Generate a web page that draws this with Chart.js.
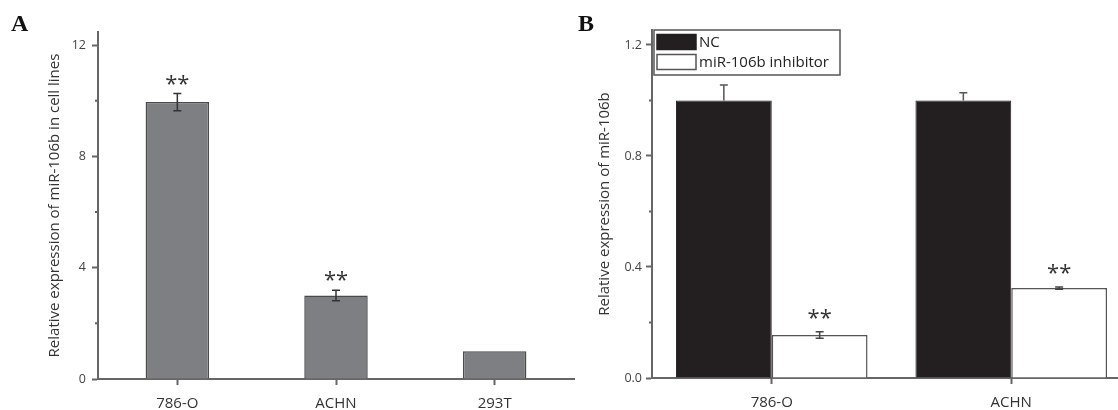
<!DOCTYPE html>
<html>
<head>
<meta charset="utf-8">
<script src="https://cdn.jsdelivr.net/npm/chart.js@4.4.1/dist/chart.umd.min.js"></script>
<style>
  html, body { margin: 0; padding: 0; background: #fff; }
  body { width: 1118px; height: 410px; overflow: hidden; position: relative; }
  canvas { position: absolute; top: 0; }
  #chartA { left: 0; }
  #chartB { left: 560px; }
  .panel { position: absolute; top: 11px; font: bold 24px "Liberation Serif", serif; line-height: 24px; color: #111; }
</style>
</head>
<body>
<canvas id="chartA" width="580" height="410"></canvas>
<canvas id="chartB" width="580" height="410"></canvas>
<div class="panel" style="left:11px">A</div>
<div class="panel" style="left:578px">B</div>
<script>
// Panel A data
const cellLines = ['786-O', 'ACHN', '293T'];
const expressionA = [9.95, 3.0, 1.0];
const errorA = [0.31, 0.19, 0];
const starsA = ['**', '**', ''];
const ticksMinorA = [2, 6, 10];

// Panel B data
const cellLinesB = ['786-O', 'ACHN'];
const ncValues = [1.0, 1.0];
const ncErrors = [0.056, 0.028];
const inhibitorValues = [0.155, 0.324];
const inhibitorErrors = [0.012, 0.004];
const inhibitorStars = ['**', '**'];
const ticksMinorB = [0.2, 0.6, 1.0];

const axisColor = '#666';
const tickFont = { family: 'Open Sans', size: 12.5 };
const labelFont = { family: 'Open Sans', size: 15 };
const titleFont = { family: 'Open Sans', size: 15 };

// error bars, significance stars and short minor ticks
const extrasPlugin = {
    id: 'extras',
    afterDatasetsDraw(chart, args, opts) {
        const ctx = chart.ctx;
        const yScale = chart.scales.y;
        ctx.save();
        chart.data.datasets.forEach((ds, i) => {
            const meta = chart.getDatasetMeta(i);
            meta.data.forEach((bar, j) => {
                const v = ds.data[j];
                const e = ds.errors ? ds.errors[j] : 0;
                const top = yScale.getPixelForValue(v + e);
                if (e > 0) {
                    const bot = yScale.getPixelForValue(v - e);
                    const base = yScale.getPixelForValue(v);
                    ctx.strokeStyle = ds.errorColor;
                    ctx.lineWidth = 1.5;
                    ctx.beginPath();
                    ctx.moveTo(bar.x - 4, top); ctx.lineTo(bar.x + 4, top);
                    if (ds.upperOnly) {
                        ctx.moveTo(bar.x, top); ctx.lineTo(bar.x, base);
                    } else {
                        ctx.moveTo(bar.x, top); ctx.lineTo(bar.x, bot);
                        ctx.moveTo(bar.x - 4, bot); ctx.lineTo(bar.x + 4, bot);
                    }
                    ctx.stroke();
                }
                if (ds.stars && ds.stars[j]) {
                    ctx.fillStyle = '#333';
                    ctx.font = '22px "Open Sans"';
                    ctx.textAlign = 'center';
                    ctx.textBaseline = 'middle';
                    ctx.fillText(ds.stars[j], bar.x, top - opts.starGap + 5);
                }
            });
        });
        // minor ticks on y axis
        ctx.strokeStyle = axisColor;
        ctx.lineWidth = 2;
        ctx.beginPath();
        opts.minor.forEach(v => {
            const y = yScale.getPixelForValue(v);
            ctx.moveTo(chart.chartArea.left - 3, y);
            ctx.lineTo(chart.chartArea.left, y);
        });
        ctx.stroke();
        ctx.restore();
    }
};

// boxed legend in upper left of panel B
const boxLegendPlugin = {
    id: 'boxLegend',
    afterDraw(chart, args, opts) {
        if (!opts.show) return;
        const ctx = chart.ctx;
        const x0 = chart.chartArea.left + 2, y0 = chart.chartArea.top;
        ctx.save();
        ctx.strokeStyle = '#555';
        ctx.lineWidth = 1.5;
        ctx.fillStyle = '#fff';
        ctx.fillRect(x0, y0, 186, 45);
        ctx.strokeRect(x0, y0, 186, 45);
        ctx.font = '15px "Open Sans"';
        ctx.textBaseline = 'middle';
        ctx.textAlign = 'left';
        chart.data.datasets.forEach((ds, i) => {
            const ry = y0 + 4.5 + i * 20;
            ctx.fillStyle = ds.backgroundColor;
            ctx.fillRect(x0 + 3, ry, 39, 15);
            ctx.strokeStyle = ds.borderColor;
            ctx.lineWidth = 1.5;
            ctx.strokeRect(x0 + 3, ry, 39, 15);
            ctx.fillStyle = '#222';
            ctx.fillText(ds.label, x0 + 45, ry + 8);
        });
        ctx.restore();
    }
};

function baseOptions(cfg) {
    return {
        responsive: false,
        animation: false,
        layout: { padding: { top: cfg.top, right: cfg.right, left: 0, bottom: 0 } },
        plugins: {
            legend: { display: false },
            tooltip: { enabled: false },
            extras: { starGap: cfg.starGap, minor: cfg.minor },
            boxLegend: { show: cfg.legend }
        },
        scales: {
            x: {
                grid: { drawOnChartArea: false, offset: false, tickLength: 6, tickWidth: 2, tickColor: axisColor },
                border: { color: axisColor, width: 2 },
                ticks: { font: labelFont, color: '#333', padding: 10 },
                afterFit: s => { s.height = cfg.xHeight; }
            },
            y: {
                min: 0,
                max: cfg.max,
                ticks: {
                    stepSize: cfg.step, includeBounds: false, font: tickFont, color: '#444', padding: cfg.tickPad,
                    callback: cfg.fmt
                },
                grid: { drawOnChartArea: false, tickLength: 6, tickWidth: 2, tickColor: axisColor },
                border: { color: axisColor, width: 2 },
                title: { display: true, text: cfg.title, font: titleFont, color: '#333', padding: { top: cfg.titlePad } },
                afterFit: s => { s.width = cfg.yWidth; }
            }
        }
    };
}

new Chart(document.getElementById('chartA'), {
    type: 'bar',
    data: {
        labels: cellLines,
        datasets: [{
            data: expressionA,
            errors: errorA,
            stars: starsA,
            errorColor: '#333',
            backgroundColor: '#7e7f83',
            borderColor: '#4a4a4a',
            borderWidth: 1.5,
            categoryPercentage: 1,
            barPercentage: 0.4
        }]
    },
    options: baseOptions({
        top: 32, right: 6, xHeight: 31, yWidth: 98, max: 12.47, step: 4,
        fmt: v => v, tickPad: 6, titlePad: 46,
        title: 'Relative expression of miR-106b in cell lines',
        starGap: 14, minor: ticksMinorA, legend: false
    }),
    plugins: [extrasPlugin, boxLegendPlugin]
});

new Chart(document.getElementById('chartB'), {
    type: 'bar',
    data: {
        labels: cellLinesB,
        datasets: [{
            label: 'NC',
            data: ncValues,
            errors: ncErrors,
            upperOnly: true,
            errorColor: '#555',
            backgroundColor: '#231f20',
            borderColor: '#231f20',
            borderWidth: 1,
            categoryPercentage: 0.8,
            barPercentage: 1
        }, {
            label: 'miR-106b inhibitor',
            data: inhibitorValues,
            errors: inhibitorErrors,
            stars: inhibitorStars,
            errorColor: '#444',
            backgroundColor: '#ffffff',
            borderColor: '#555',
            borderWidth: 1.5,
            categoryPercentage: 0.8,
            barPercentage: 1
        }]
    },
    options: baseOptions({
        top: 30, right: 9, xHeight: 32, yWidth: 92, max: 1.254, step: 0.4,
        fmt: v => v.toFixed(1), tickPad: 4, titlePad: 36,
        title: 'Relative expression of miR-106b',
        starGap: 18, minor: ticksMinorB, legend: true
    }),
    plugins: [extrasPlugin, boxLegendPlugin]
});
</script>
</body>
</html>
